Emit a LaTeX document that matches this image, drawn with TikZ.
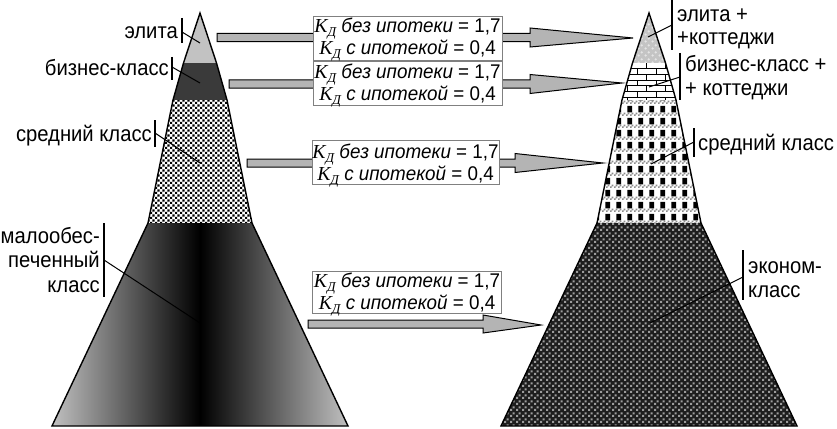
\documentclass[tikz,border=0pt]{standalone}
\usepackage{fontspec}
\setmainfont{Liberation Sans}
\newfontfamily\serifK{Liberation Serif}
\newfontfamily\lblfont[FakeStretch=0.92]{Liberation Sans}
\newfontfamily\boxfont[FakeStretch=0.95]{Liberation Sans}
\usetikzlibrary{patterns,calc}

\pgfdeclarepatternformonly{midL}{\pgfpointorigin}{\pgfqpoint{5.4pt}{5.4pt}}{\pgfqpoint{5.4pt}{5.4pt}}{%
  \pgfpathrectangle{\pgfpointorigin}{\pgfqpoint{2.4pt}{2.4pt}}%
  \pgfpathrectangle{\pgfqpoint{2.7pt}{2.7pt}}{\pgfqpoint{2.4pt}{2.4pt}}%
  \pgfusepath{fill}}
\pgfdeclarepatternformonly{econR}{\pgfpointorigin}{\pgfqpoint{6pt}{6pt}}{\pgfqpoint{6pt}{6pt}}{%
  \pgfpathrectangle{\pgfpointorigin}{\pgfqpoint{2.4pt}{2.4pt}}%
  \pgfpathrectangle{\pgfqpoint{3pt}{3pt}}{\pgfqpoint{2.4pt}{2.4pt}}%
  \pgfusepath{fill}}
\pgfdeclarepatternformonly{midRsq}{\pgfpointorigin}{\pgfqpoint{11pt}{12pt}}{\pgfqpoint{11pt}{12pt}}{%
  \pgfpathrectangle{\pgfqpoint{0.5pt}{4pt}}{\pgfqpoint{5pt}{7pt}}%
  \pgfusepath{fill}}
\pgfdeclarepatternformonly{midRband}{\pgfpointorigin}{\pgfqpoint{3.6pt}{12pt}}{\pgfqpoint{3.6pt}{12pt}}{%
  \pgfpathrectangle{\pgfpointorigin}{\pgfqpoint{1.8pt}{1.8pt}}%
  \pgfpathrectangle{\pgfqpoint{1.8pt}{1.8pt}}{\pgfqpoint{1.8pt}{1.8pt}}%
  \pgfusepath{fill}}
\pgfdeclarepatternformonly{bricksR}{\pgfqpoint{-1pt}{-1pt}}{\pgfqpoint{20pt}{13pt}}{\pgfqpoint{19pt}{11.6pt}}{%
  \pgfsetlinewidth{0.8pt}%
  \pgfpathmoveto{\pgfqpoint{0pt}{0pt}}\pgfpathlineto{\pgfqpoint{19pt}{0pt}}%
  \pgfpathmoveto{\pgfqpoint{0pt}{5.8pt}}\pgfpathlineto{\pgfqpoint{19pt}{5.8pt}}%
  \pgfpathmoveto{\pgfqpoint{0.5pt}{0pt}}\pgfpathlineto{\pgfqpoint{0.5pt}{5.8pt}}%
  \pgfpathmoveto{\pgfqpoint{10pt}{5.8pt}}\pgfpathlineto{\pgfqpoint{10pt}{11.6pt}}%
  \pgfusepath{stroke}}
\pgfdeclarepatternformonly{elitaR}{\pgfpointorigin}{\pgfqpoint{7pt}{7pt}}{\pgfqpoint{7pt}{7pt}}{%
  \pgfpathcircle{\pgfqpoint{1.75pt}{1.75pt}}{1.4pt}%
  \pgfpathcircle{\pgfqpoint{5.25pt}{5.25pt}}{1.4pt}%
  \pgfusepath{fill}}

\definecolor{arrgray}{HTML}{B4B4B4}
\definecolor{elitaL}{HTML}{C2C2C2}
\definecolor{bizL}{HTML}{3A3A3A}
\definecolor{edgeL}{HTML}{C0C0C0}
\definecolor{econbg}{HTML}{1E1E1E}
\definecolor{econdot}{HTML}{9C9C9C}
\definecolor{elitaRbg}{HTML}{C4C4C4}
\definecolor{elitaRdot}{HTML}{E4E4E4}
\definecolor{boxline}{HTML}{808080}
\definecolor{bandgray}{HTML}{8C8C8C}

\newcommand\kline[2]{{\serifK\itshape K\raisebox{-4pt}{\fontsize{13.5}{13.5}\selectfont Д}} \textit{#1} = #2}
\newcommand\grarr[5]{%
  \draw[garrow] ($(#1)+(0,-#4)$) -- ($(#2)+(0,-#4)$) -- ($(#2)+(0,-#5)$) -- (#3)
    -- ($(#2)+(0,#5)$) -- ($(#2)+(0,#4)$) -- ($(#1)+(0,#4)$) -- cycle;}

\begin{document}
\begin{tikzpicture}[x=1pt,y=-1pt,
  outl/.style={draw=black,line width=1.4pt,line join=miter},
  garrow/.style={draw=black,fill=arrgray,line width=1pt,line join=miter},
  kbox/.style={draw=boxline,line width=0.8pt,fill=white,minimum width=189pt,minimum height=44pt,inner sep=0pt},
  ktext/.style={inner sep=0pt,align=center,font=\boxfont\fontsize{19.8}{22}\selectfont,anchor=base},
  lbl/.style={font=\lblfont\fontsize{22}{23.5}\selectfont,inner sep=0pt},
  bar/.style={line width=1.3pt},
  leader/.style={line width=1pt}]
\useasboundingbox (0,0) rectangle (837,428);

% ---------- left pyramid ----------
\fill[elitaL] (200,13) -- (216.5,63) -- (183.5,63) -- cycle;
\fill[bizL] (183.5,63) -- (216.5,63) -- (227,100) -- (173,100) -- cycle;
\fill[white] (173,100) -- (227,100) -- (252,223) -- (148,223) -- cycle;
\fill[pattern=midL,pattern color=black] (173,100) -- (227,100) -- (252,223) -- (148,223) -- cycle;
\shade[left color=edgeL,right color=edgeL,middle color=black] (148,223) -- (252,223) -- (348,426) -- (52,426) -- cycle;
\draw[outl] (200,13) -- (216.5,63) -- (227,100) -- (252,223) -- (348,426) -- (52,426) -- (148,223) -- (173,100) -- (183.5,63) -- cycle;

% ---------- right pyramid ----------
\begin{scope}[xshift=449pt]
\fill[elitaRbg] (200,13) -- (216.5,63) -- (183.5,63) -- cycle;
\fill[pattern=elitaR,pattern color=elitaRdot] (200,13) -- (216.5,63) -- (183.5,63) -- cycle;
\fill[white] (183.5,63) -- (216.5,63) -- (227,100) -- (173,100) -- cycle;
\fill[pattern=bricksR,pattern color=black] (183.5,63) -- (216.5,63) -- (227,100) -- (173,100) -- cycle;
\fill[white] (173,100) -- (227,100) -- (252,223) -- (148,223) -- cycle;
\fill[pattern=midRband,pattern color=bandgray] (173,100) -- (227,100) -- (252,223) -- (148,223) -- cycle;
\fill[pattern=midRsq,pattern color=black] (173,100) -- (227,100) -- (252,223) -- (148,223) -- cycle;
\fill[econbg] (148,223) -- (252,223) -- (348,426) -- (52,426) -- cycle;
\fill[pattern=econR,pattern color=econdot] (148,223) -- (252,223) -- (348,426) -- (52,426) -- cycle;
\draw[outl] (200,13) -- (216.5,63) -- (227,100) -- (252,223) -- (348,426) -- (52,426) -- (148,223) -- (173,100) -- (183.5,63) -- cycle;
\end{scope}

% ---------- arrows ----------
\coordinate (s1) at (217,37.5); \coordinate (h1) at (530,37.5); \coordinate (t1) at (633,38);
\coordinate (s2) at (229,84);   \coordinate (h2) at (530,84);   \coordinate (t2) at (622,83);
\coordinate (s3) at (247,163);  \coordinate (h3) at (515,163);  \coordinate (t3) at (603,163);
\coordinate (s4) at (308,324);  \coordinate (h4) at (483,324);  \coordinate (t4) at (541,325);
\grarr{s1}{h1}{t1}{4.2}{9.5}
\grarr{s2}{h2}{t2}{4.2}{9.5}
\grarr{s3}{h3}{t3}{4}{9.5}
\grarr{s4}{h4}{t4}{4}{9}

% ---------- boxes ----------
\node[kbox] (k1) at (407.5,38) {};
\node[ktext] (k1t) at (407.5,55) {\kline{без ипотеки}{1,7}\\\kline{с ипотекой}{0,4}};
\node[kbox] (k2) at (407.5,83) {};
\node[ktext] (k2t) at (407.5,100) {\kline{без ипотеки}{1,7}\\\kline{с ипотекой}{0,4}};
\node[kbox,minimum width=187pt] (k3) at (405.5,162) {};
\node[ktext] (k3t) at (405.5,180) {\kline{без ипотеки}{1,7}\\\kline{с ипотекой}{0,4}};
\node[kbox,minimum height=42pt] (k4) at (407,292) {};
\node[ktext] (k4t) at (407,309) {\kline{без ипотеки}{1,7}\\\kline{с ипотекой}{0,4}};

% ---------- left labels ----------
\node[lbl,anchor=base east] (le) at (178,38) {элита};
\coordinate (le1) at (182,18); \coordinate (le2) at (182,43);
\coordinate (lea) at (182,32); \coordinate (leb) at (200,43);
\draw[bar] (le1) -- (le2); \draw[leader] (lea) -- (leb);

\node[lbl,anchor=base east] (lb) at (169,75) {бизнес-класс};
\coordinate (lb1) at (172,57); \coordinate (lb2) at (172,80);
\coordinate (lba) at (172,67); \coordinate (lbb) at (200,83);
\draw[bar] (lb1) -- (lb2); \draw[leader] (lba) -- (lbb);

\node[lbl,anchor=base east] (lm) at (152,141.5) {средний класс};
\coordinate (lm1) at (155,120); \coordinate (lm2) at (155,147);
\coordinate (lma) at (155,133); \coordinate (lmb) at (200,163);
\draw[bar] (lm1) -- (lm2); \draw[leader] (lma) -- (lmb);

\node[lbl,anchor=base east,align=right,font=\lblfont\fontsize{22}{24.5}\selectfont] (ll) at (100,292) {малообес-\\печенный\\класс};
\coordinate (ll1) at (104,223); \coordinate (ll2) at (104,297);
\coordinate (lla) at (104,260); \coordinate (llb) at (200,323);
\draw[bar] (ll1) -- (ll2); \draw[leader] (lla) -- (llb);

% ---------- right labels ----------
\node[lbl,anchor=base west,align=left] (re) at (677,45) {элита +\\+коттеджи};
\coordinate (re1) at (672,0); \coordinate (re2) at (672,50);
\coordinate (rea) at (672,25); \coordinate (reb) at (648,37);
\draw[bar] (re1) -- (re2); \draw[leader] (rea) -- (reb);

\node[lbl,anchor=base west,align=left] (rb) at (685,95) {бизнес-класс +\\+ коттеджи};
\coordinate (rb1) at (680,53); \coordinate (rb2) at (680,100);
\coordinate (rba) at (680,77); \coordinate (rbb) at (649,87);
\draw[bar] (rb1) -- (rb2); \draw[leader] (rba) -- (rbb);

\node[lbl,anchor=base west] (rm) at (698,150) {средний класс};
\coordinate (rm1) at (694,128); \coordinate (rm2) at (694,157);
\coordinate (rma) at (694,142); \coordinate (rmb) at (651,164);
\draw[bar] (rm1) -- (rm2); \draw[leader] (rma) -- (rmb);

\node[lbl,anchor=base west,align=left] (rc) at (748,297) {эконом-\\класс};
\coordinate (rc1) at (743,250); \coordinate (rc2) at (743,300);
\coordinate (rca) at (743,277); \coordinate (rcb) at (650,323);
\draw[bar] (rc1) -- (rc2); \draw[leader] (rca) -- (rcb);
\end{tikzpicture}
\end{document}
